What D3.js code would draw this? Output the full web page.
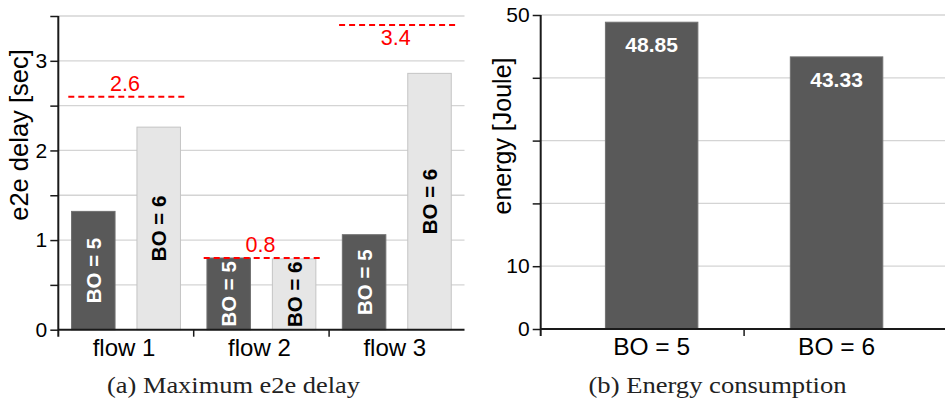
<!DOCTYPE html>
<html>
<head>
<meta charset="utf-8">
<script src="https://cdn.jsdelivr.net/npm/d3@7"></script>
<style>
  html, body { margin: 0; padding: 0; background: #fff; }
  svg { display: block; }
</style>
</head>
<body>
<svg id="chart" width="945" height="401" font-family="'Liberation Sans', Arial, sans-serif"></svg>
<script>
// ---- Data (a) Maximum e2e delay ----
const flows = ["flow 1", "flow 2", "flow 3"];
const seriesNames = ["BO = 5", "BO = 6"];
const delayBO5 = [1.32, 0.80, 1.06];
const delayBO6 = [2.26, 0.79, 2.86];
const boundValues = [2.6, 0.8, 3.4];
const boundLabels = ["2.6", "0.8", "3.4"];
const delayTicks = [0, 0.5, 1, 1.5, 2, 2.5, 3, 3.5];
const delayTickLabels = ["0", "", "1", "", "2", "", "3", ""];

// ---- Data (b) Energy consumption ----
const energyCats = ["BO = 5", "BO = 6"];
const energyValues = [48.85, 43.33];
const energyLabels = ["48.85", "43.33"];
const energyTicks = [0, 10, 20, 30, 40, 50];
const energyTickLabels = ["0", "10", "", "", "", "50"];

const captions = ["(a) Maximum e2e delay", "(b) Energy consumption"];

const svg = d3.select("#chart");
const sans = "'Liberation Sans', Arial, sans-serif";
const serif = "'Liberation Serif', 'DejaVu Serif', serif";
const darkFill = "#595959", darkStroke = "#707070";
const lightFill = "#e6e6e6", lightStroke = "#c4c4c4";
const gridColor = "#d4d4d4";
const axisColor = "#1a1a1a";

// ================= Panel (a) =================
(function () {
  const L = 58.3, R = 464.5, B = 329.7, T = 16;
  const y = d3.scaleLinear().domain([0, 3.5]).range([B, T]);
  const x = d3.scaleBand().domain(flows).range([L, R]).paddingInner(0).paddingOuter(0);
  const xs = d3.scaleBand().domain(seriesNames).range([0, x.bandwidth()])
    .paddingInner(0.335).paddingOuter(0.2025);
  const g = svg.append("g");

  g.append("g").selectAll("line").data(delayTicks.filter(d => d > 0)).join("line")
    .attr("x1", L).attr("x2", R)
    .attr("y1", d => y(d)).attr("y2", d => y(d))
    .attr("stroke", gridColor).attr("stroke-width", 1.3);

  const rows = flows.map((f, i) => [
    { flow: f, s: seriesNames[0], v: delayBO5[i] },
    { flow: f, s: seriesNames[1], v: delayBO6[i] }
  ]).flat();
  const bars = g.append("g").selectAll("g").data(rows).join("g");
  bars.append("rect")
    .attr("x", d => x(d.flow) + xs(d.s))
    .attr("width", xs.bandwidth())
    .attr("y", d => y(d.v))
    .attr("height", d => y(0) - y(d.v))
    .attr("fill", d => d.s === seriesNames[0] ? darkFill : lightFill)
    .attr("stroke", d => d.s === seriesNames[0] ? darkStroke : lightStroke)
    .attr("stroke-width", 1);
  bars.append("text")
    .attr("transform", d => {
      const cx = x(d.flow) + xs(d.s) + xs.bandwidth() / 2;
      const cy = (y(d.v) + y(0)) / 2;
      return `translate(${cx},${cy}) rotate(-90)`;
    })
    .attr("text-anchor", "middle").attr("dominant-baseline", "central")
    .attr("font-size", 20.5).attr("font-weight", "bold")
    .attr("fill", d => d.s === seriesNames[0] ? "#ffffff" : "#000000")
    .text(d => d.s);

  const bounds = flows.map((f, i) => ({ flow: f, v: boundValues[i], label: boundLabels[i] }));
  g.append("g").selectAll("line").data(bounds).join("line")
    .attr("x1", d => x(d.flow) + 10).attr("x2", d => x(d.flow) + x.bandwidth() - 9)
    .attr("y1", d => y(d.v)).attr("y2", d => y(d.v))
    .attr("stroke", "#ff0000").attr("stroke-width", 2).attr("stroke-dasharray", "6,4");
  g.append("g").selectAll("text").data(bounds).join("text")
    .attr("x", d => x(d.flow) + x.bandwidth() / 2 - 1)
    .attr("y", d => (y(d.v) - T < 20) ? y(d.v) + 20 : y(d.v) - 5.5)
    .attr("text-anchor", "middle")
    .attr("font-size", 21.5).attr("fill", "#ff0000")
    .text(d => d.label);

  const yAxis = d3.axisLeft(y).tickValues(delayTicks)
    .tickFormat((d, i) => delayTickLabels[i]).tickSize(8).tickPadding(3).tickSizeOuter(0);
  const ya = g.append("g").attr("transform", `translate(${L},0)`).call(yAxis);
  ya.select(".domain").remove();
  ya.selectAll(".tick line").attr("stroke", axisColor).attr("stroke-width", 1.5);
  ya.selectAll(".tick text").attr("font-size", 21).attr("fill", "#000").attr("font-family", sans);
  g.append("line").attr("x1", L).attr("x2", L).attr("y1", T).attr("y2", B + 7)
    .attr("stroke", axisColor).attr("stroke-width", 2);

  g.append("line").attr("x1", L).attr("x2", R).attr("y1", B).attr("y2", B)
    .attr("stroke", axisColor).attr("stroke-width", 2);
  g.append("g").selectAll("line").data(flows.slice(1)).join("line")
    .attr("x1", d => x(d)).attr("x2", d => x(d)).attr("y1", B).attr("y2", B + 7)
    .attr("stroke", axisColor).attr("stroke-width", 1.5);
  g.append("g").selectAll("text").data(flows).join("text")
    .attr("x", d => x(d) + x.bandwidth() / 2 - 2).attr("y", 356)
    .attr("text-anchor", "middle").attr("font-size", 24).attr("fill", "#000")
    .text(d => d);

  g.append("text").attr("transform", `translate(28,135) rotate(-90)`)
    .attr("text-anchor", "middle").attr("font-size", 25.5).attr("fill", "#000")
    .text("e2e delay [sec]");

  g.append("text").attr("x", 233.5).attr("y", 393).attr("text-anchor", "middle")
    .attr("font-family", serif).attr("font-size", 23)
    .attr("textLength", 253).attr("lengthAdjust", "spacingAndGlyphs")
    .attr("fill", "#222").text(captions[0]);
})();

// ================= Panel (b) =================
(function () {
  const L = 540.7, R = 947.5, B = 329, T = 15;
  const y = d3.scaleLinear().domain([0, 50]).range([B, T]);
  const x = d3.scaleBand().domain(energyCats).range([L, R]).paddingInner(0.5).paddingOuter(0.35);
  const g = svg.append("g");

  g.append("g").selectAll("line").data(energyTicks.filter(d => d > 0)).join("line")
    .attr("x1", L).attr("x2", R)
    .attr("y1", d => y(d)).attr("y2", d => y(d))
    .attr("stroke", gridColor).attr("stroke-width", 1.3);

  const rows = energyCats.map((c, i) => ({ c, v: energyValues[i], label: energyLabels[i] }));
  g.append("g").selectAll("rect").data(rows).join("rect")
    .attr("x", d => x(d.c)).attr("width", x.bandwidth())
    .attr("y", d => y(d.v)).attr("height", d => y(0) - y(d.v))
    .attr("fill", darkFill).attr("stroke", darkStroke).attr("stroke-width", 1);
  g.append("g").selectAll("text").data(rows).join("text")
    .attr("x", d => x(d.c) + x.bandwidth() / 2).attr("y", d => y(d.v) + 30)
    .attr("text-anchor", "middle").attr("font-size", 21).attr("font-weight", "bold")
    .attr("fill", "#fff").text(d => d.label);

  const yAxis = d3.axisLeft(y).tickValues(energyTicks)
    .tickFormat((d, i) => energyTickLabels[i]).tickSize(8).tickPadding(3).tickSizeOuter(0);
  const ya = g.append("g").attr("transform", `translate(${L},0)`).call(yAxis);
  ya.select(".domain").remove();
  ya.selectAll(".tick line").attr("stroke", axisColor).attr("stroke-width", 1.5);
  ya.selectAll(".tick text").attr("font-size", 21).attr("fill", "#000").attr("font-family", sans);
  g.append("line").attr("x1", L).attr("x2", L).attr("y1", T).attr("y2", B + 7)
    .attr("stroke", axisColor).attr("stroke-width", 2);

  g.append("line").attr("x1", L).attr("x2", R).attr("y1", B).attr("y2", B)
    .attr("stroke", axisColor).attr("stroke-width", 2);
  const mid = (x(energyCats[0]) + x.bandwidth() + x(energyCats[1])) / 2;
  g.append("line").attr("x1", mid).attr("x2", mid).attr("y1", B).attr("y2", B + 7)
    .attr("stroke", axisColor).attr("stroke-width", 1.5);
  g.append("g").selectAll("text").data(energyCats).join("text")
    .attr("x", d => x(d) + x.bandwidth() / 2).attr("y", 355)
    .attr("text-anchor", "middle").attr("font-size", 24.5).attr("fill", "#000")
    .text(d => d);

  g.append("text").attr("transform", `translate(511,136) rotate(-90)`)
    .attr("text-anchor", "middle").attr("font-size", 25).attr("fill", "#000")
    .text("energy [Joule]");

  g.append("text").attr("x", 717.5).attr("y", 393).attr("text-anchor", "middle")
    .attr("font-family", serif).attr("font-size", 23)
    .attr("textLength", 258).attr("lengthAdjust", "spacingAndGlyphs")
    .attr("fill", "#222").text(captions[1]);
})();
</script>
</body>
</html>
